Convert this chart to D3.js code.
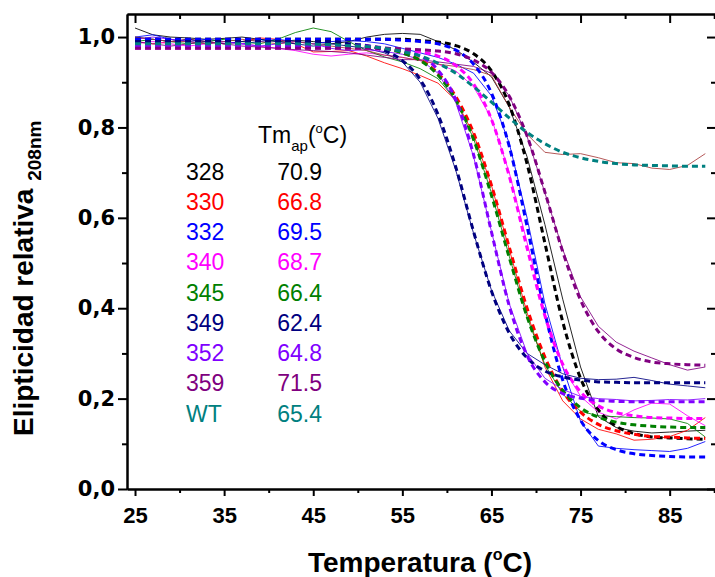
<!DOCTYPE html>
<meta charset="utf-8">
<head>
<style>
  body { margin: 0; background: #fff; }
  .axis path, .axis line { stroke: #000; stroke-width: 2; }
  .axis text { fill: #000; }
</style>
</head>
<body>
<svg id="chart"></svg>
<script src="https://d3js.org/d3.v7.min.js"></script>
<script>

// temperatures (°C) of the measured points
var temps = [25,27,29,31,33,35,37,39,41,43,45,47,49,51,53,55,57,59,61,63,65,67,69,71,73,75,77,79,81,83,85,87,89];

var mutants  = ["328","330","332","340","345","349","352","359","WT"];
var tmValues = ["70.9","66.8","69.5","68.7","66.4","62.4","64.8","71.5","65.4"];
var colors   = ["#000000","#ff0000","#0000ff","#ff00ff","#008000","#000080","#8000ff","#800080","#008080"];
var dataColors = ["#000000","#ff0000","#0000ff","#ff00ff","#008000","#000080","#8000ff","#800080","#a83c3c"];

// measured relative ellipticity (thin lines)
var data328 = [1.02,1.005,1.0,0.998,0.995,0.997,1.0,0.995,0.99,0.993,0.99,0.985,0.99,1.0,1.006,1.008,1.006,0.99,0.972,0.944,0.912,0.845,0.735,0.585,0.42,0.27,0.16,0.136,0.128,0.124,0.126,0.128,0.13];
var data330 = [0.99,0.985,0.99,0.995,0.99,0.985,0.99,0.998,0.995,0.985,0.967,0.968,0.97,0.958,0.943,0.93,0.915,0.898,0.86,0.785,0.672,0.53,0.39,0.27,0.195,0.155,0.132,0.122,0.108,0.11,0.116,0.13,0.158];
var data332 = [1.0,1.005,0.995,0.99,0.995,0.99,0.985,0.99,0.995,0.99,0.985,0.99,0.992,0.99,0.985,0.975,0.965,0.955,0.94,0.92,0.87,0.765,0.6,0.41,0.27,0.15,0.095,0.09,0.087,0.085,0.083,0.09,0.105];
var data340 = [0.985,0.99,0.985,0.98,0.985,0.99,0.985,0.98,0.975,0.97,0.962,0.958,0.962,0.965,0.96,0.955,0.948,0.94,0.925,0.89,0.82,0.7,0.545,0.39,0.27,0.205,0.17,0.155,0.175,0.19,0.188,0.162,0.14];
var data345 = [0.99,0.995,0.99,0.985,0.99,0.995,0.99,0.985,0.995,1.01,1.02,1.012,0.99,0.97,0.956,0.945,0.93,0.908,0.86,0.775,0.655,0.515,0.38,0.275,0.21,0.172,0.162,0.16,0.158,0.157,0.155,0.145,0.115];
var data349 = [1.0,0.995,0.99,0.995,0.99,0.985,0.99,0.995,0.99,0.985,0.98,0.985,0.98,0.975,0.965,0.945,0.9,0.82,0.705,0.565,0.44,0.35,0.3,0.275,0.255,0.245,0.242,0.243,0.247,0.24,0.232,0.228,0.224];
var data352 = [0.995,1.0,0.995,0.99,0.985,0.99,0.985,0.98,0.985,0.99,0.985,0.975,0.97,0.972,0.968,0.962,0.95,0.92,0.855,0.735,0.57,0.41,0.3,0.245,0.22,0.205,0.2,0.198,0.195,0.196,0.198,0.197,0.2];
var data359 = [0.99,0.985,0.98,0.985,0.99,0.985,0.98,0.978,0.975,0.972,0.97,0.968,0.965,0.96,0.955,0.95,0.95,0.945,0.94,0.935,0.92,0.87,0.78,0.655,0.53,0.425,0.36,0.325,0.305,0.29,0.275,0.263,0.27];
var dataWT  = [1.0,0.995,0.99,0.99,0.985,0.99,0.995,0.99,0.985,0.99,0.985,0.98,0.975,0.97,0.96,0.955,0.948,0.94,0.935,0.928,0.915,0.845,0.785,0.745,0.74,0.742,0.733,0.722,0.72,0.71,0.707,0.716,0.742];

// fitted curves (thick dashed lines)
var fit328 = [0.995,0.995,0.995,0.995,0.995,0.995,0.995,0.995,0.995,0.995,0.995,0.995,0.995,0.995,0.995,0.995,0.992,0.989,0.981,0.963,0.925,0.850,0.719,0.544,0.370,0.245,0.175,0.139,0.123,0.115,0.113,0.111,0.110];
var fit330 = [0.985,0.985,0.985,0.985,0.985,0.985,0.985,0.985,0.985,0.985,0.985,0.985,0.982,0.980,0.975,0.966,0.949,0.920,0.868,0.788,0.672,0.535,0.400,0.292,0.216,0.170,0.143,0.129,0.121,0.116,0.115,0.113,0.112];
var fit332 = [0.995,0.995,0.995,0.995,0.995,0.995,0.995,0.995,0.995,0.995,0.995,0.995,0.995,0.995,0.995,0.993,0.990,0.985,0.971,0.940,0.876,0.758,0.581,0.390,0.241,0.152,0.107,0.087,0.078,0.074,0.072,0.071,0.071];
var fit340 = [0.975,0.975,0.975,0.975,0.975,0.975,0.975,0.975,0.975,0.975,0.975,0.975,0.975,0.975,0.973,0.972,0.967,0.958,0.937,0.896,0.818,0.692,0.533,0.383,0.276,0.215,0.184,0.169,0.162,0.158,0.157,0.156,0.156];
var fit345 = [0.985,0.985,0.985,0.985,0.985,0.985,0.985,0.985,0.985,0.985,0.985,0.985,0.982,0.980,0.975,0.965,0.948,0.916,0.861,0.773,0.650,0.512,0.381,0.282,0.218,0.180,0.159,0.148,0.142,0.139,0.137,0.136,0.136];
var fit349 = [0.99,0.99,0.99,0.99,0.99,0.99,0.99,0.99,0.99,0.99,0.99,0.99,0.985,0.981,0.970,0.948,0.906,0.829,0.712,0.569,0.438,0.345,0.290,0.261,0.248,0.241,0.237,0.236,0.235,0.235,0.235,0.235,0.235];
var fit352 = [0.98,0.98,0.98,0.98,0.98,0.98,0.98,0.98,0.98,0.98,0.98,0.98,0.98,0.98,0.976,0.971,0.958,0.927,0.861,0.739,0.569,0.405,0.295,0.237,0.211,0.201,0.196,0.194,0.193,0.193,0.193,0.193,0.193];
var fit359 = [0.975,0.975,0.975,0.975,0.975,0.975,0.975,0.975,0.975,0.975,0.975,0.975,0.975,0.975,0.975,0.974,0.972,0.969,0.963,0.949,0.922,0.869,0.781,0.657,0.525,0.418,0.348,0.310,0.291,0.281,0.277,0.275,0.274];
var fitWT  = [0.985,0.985,0.985,0.985,0.985,0.985,0.985,0.985,0.985,0.985,0.984,0.983,0.981,0.979,0.975,0.968,0.958,0.942,0.920,0.890,0.856,0.821,0.789,0.764,0.745,0.733,0.725,0.720,0.717,0.716,0.715,0.714,0.714];

var xMajor = [25,35,45,55,65,75,85];
var xMinor = [30,40,50,60,70,80,90];
var yMajor = [0,0.2,0.4,0.6,0.8,1.0];
var yMinor = [0.1,0.3,0.5,0.7,0.9];

var allData = [data328,data330,data332,data340,data345,data349,data352,data359,dataWT];
var allFits = [fit328,fit330,fit332,fit340,fit345,fit349,fit352,fit359,fitWT];

var W = 715, H = 577;
var plotL = 127, plotR = 716, plotT = 14, plotB = 489;

var svg = d3.select("#chart")
    .attr("width", W)
    .attr("height", H);

var x = d3.scaleLinear().domain([24.1, 90.2]).range([plotL, plotR]);
var y = d3.scaleLinear().domain([0, 1.051]).range([plotB, plotT]);

var comma = function(d) { return d3.format(".1f")(d).replace(".", ","); };

// measured lines
var dataLine = d3.line()
    .x(function(d, i) { return x(temps[i]); })
    .y(function(d) { return y(d); });

svg.append("g").selectAll("path")
    .data(allData)
  .enter().append("path")
    .attr("d", dataLine)
    .attr("fill", "none")
    .attr("stroke", function(d, i) { return dataColors[i]; })
    .attr("stroke-width", 1)
    .attr("stroke-opacity", 0.85);

// fits
var fitLine = d3.line()
    .x(function(d, i) { return x(temps[i]); })
    .y(function(d) { return y(d); })
    .curve(d3.curveMonotoneX);

svg.append("g").selectAll("path")
    .data(allFits)
  .enter().append("path")
    .attr("d", fitLine)
    .attr("fill", "none")
    .attr("stroke", function(d, i) { return colors[i]; })
    .attr("stroke-width", 3)
    .attr("stroke-dasharray", "6,4");

// axes
svg.append("g")
    .attr("class", "axis")
    .attr("transform", "translate(0," + plotB + ")")
    .call(d3.axisBottom(x).tickValues(xMinor).tickSize(4).tickSizeOuter(0).tickFormat(""));

svg.append("g")
    .attr("class", "axis")
    .attr("transform", "translate(0," + plotB + ")")
    .call(d3.axisBottom(x).tickValues(xMajor).tickSize(7).tickSizeOuter(0).tickPadding(11))
    .selectAll("text")
    .style("font-family", "'Liberation Sans', Arial, sans-serif")
    .style("font-weight", "bold")
    .style("font-size", "22px");

svg.append("g")
    .attr("class", "axis")
    .attr("transform", "translate(0," + plotT + ")")
    .call(d3.axisTop(x).tickValues(xMinor).tickSize(-5).tickSizeOuter(0).tickFormat(""));

svg.append("g")
    .attr("class", "axis")
    .attr("transform", "translate(0," + plotT + ")")
    .call(d3.axisTop(x).tickValues(xMajor).tickSize(-9).tickSizeOuter(0).tickFormat(""));

svg.append("g")
    .attr("class", "axis")
    .attr("transform", "translate(" + plotL + ",0)")
    .call(d3.axisLeft(y).tickValues(yMinor).tickSize(5).tickSizeOuter(0).tickFormat(""));

svg.append("g")
    .attr("class", "axis")
    .attr("transform", "translate(" + plotL + ",0)")
    .call(d3.axisLeft(y).tickValues(yMajor).tickSize(9).tickSizeOuter(0).tickPadding(3).tickFormat(comma))
    .selectAll("text")
    .style("font-family", "'DejaVu Sans', sans-serif")
    .style("font-weight", "bold")
    .style("font-size", "21px");

svg.append("g")
    .attr("class", "axis")
    .attr("transform", "translate(" + plotR + ",0)")
    .call(d3.axisRight(y).tickValues(yMajor).tickSize(-9).tickSizeOuter(0).tickFormat(""));

svg.append("g")
    .attr("class", "axis")
    .attr("transform", "translate(" + plotR + ",0)")
    .call(d3.axisRight(y).tickValues(yMinor).tickSize(-5).tickSizeOuter(0).tickFormat(""));

// axis titles
var xt = svg.append("text")
    .attr("x", 308)
    .attr("y", 572)
    .style("font-family", "'Liberation Sans', Arial, sans-serif")
    .style("font-weight", "bold")
    .style("font-size", "28px");
xt.append("tspan").text("Temperatura (");
xt.append("tspan").attr("dy", -12).style("font-size", "16px").text("o");
xt.append("tspan").attr("dy", 12).text("C)");

var yt = svg.append("text")
    .attr("transform", "translate(33,436) rotate(-90)")
    .style("font-family", "'Liberation Sans', Arial, sans-serif")
    .style("font-weight", "bold")
    .style("font-size", "28px");
yt.append("tspan").text("Elipticidad relativa ");
yt.append("tspan").attr("dy", 8).style("font-size", "19px").text("208nm");

// legend
var lg = svg.append("g")
    .style("font-family", "'Liberation Sans', Arial, sans-serif")
    .style("font-size", "23px");

var hd = lg.append("text").attr("x", 258).attr("y", 143);
hd.append("tspan").text("Tm");
hd.append("tspan").attr("dy", 8).style("font-size", "15px").text("ap");
hd.append("tspan").attr("dy", -8).text("(");
hd.append("tspan").attr("dy", -10).style("font-size", "13px").text("o");
hd.append("tspan").attr("dy", 10).text("C)");

lg.selectAll(".name")
    .data(mutants)
  .enter().append("text")
    .attr("class", "name")
    .attr("x", 186)
    .attr("y", function(d, i) { return 179.5 + i * 30.25; })
    .attr("fill", function(d, i) { return colors[i]; })
    .text(function(d) { return d; });

lg.selectAll(".tm")
    .data(tmValues)
  .enter().append("text")
    .attr("class", "tm")
    .attr("x", 322)
    .attr("y", function(d, i) { return 179.5 + i * 30.25; })
    .attr("text-anchor", "end")
    .attr("fill", function(d, i) { return colors[i]; })
    .text(function(d) { return d; });

</script>
</body>
